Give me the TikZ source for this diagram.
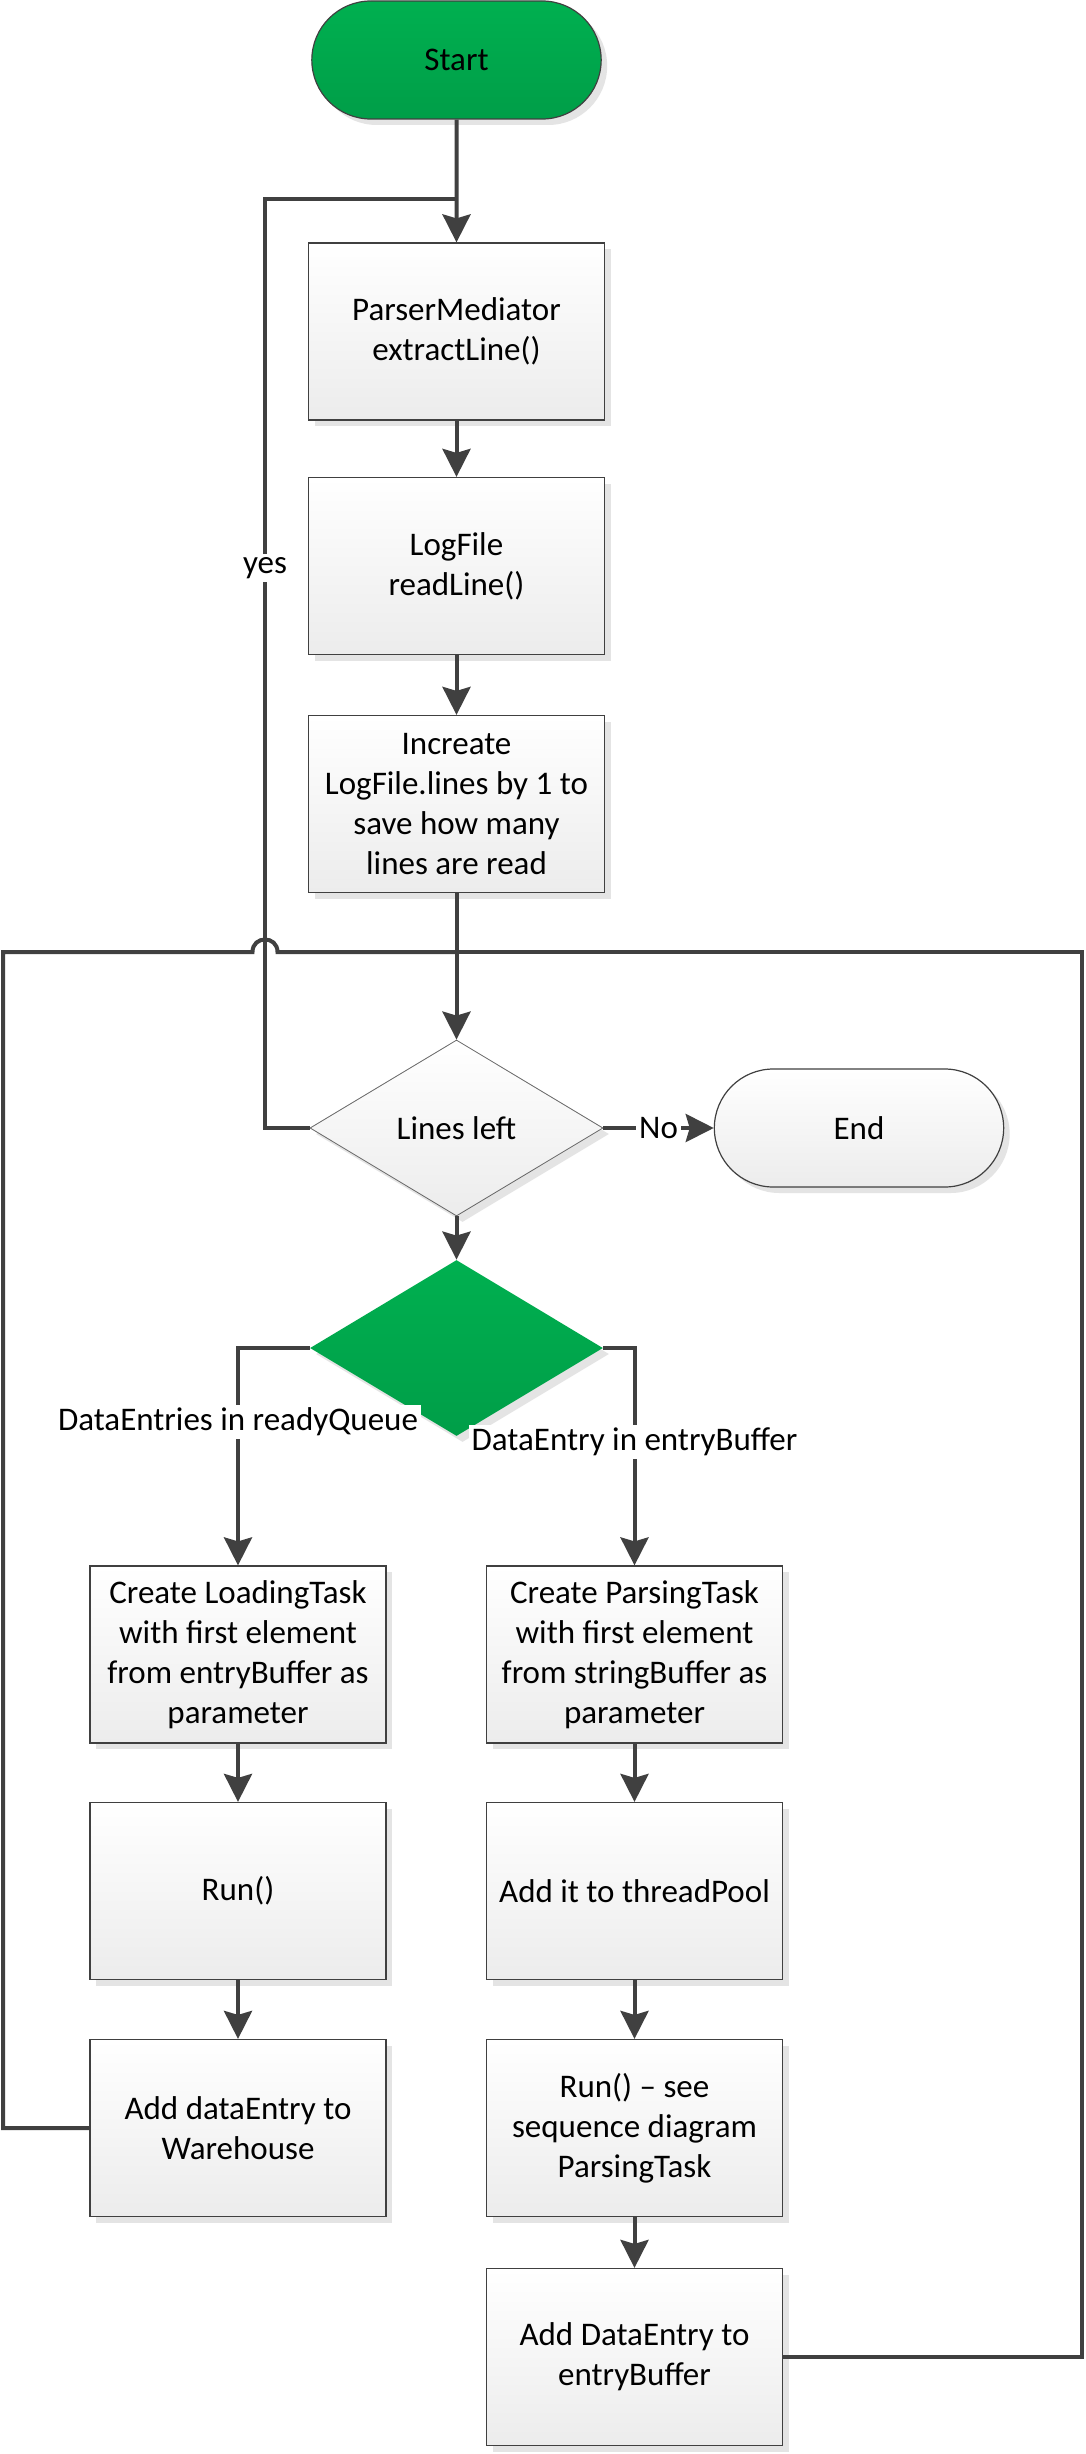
\documentclass[tikz,border=0pt]{standalone}
\usepackage{fontspec}
\setmainfont{Carlito}
\usetikzlibrary{shapes.geometric,shapes.misc,arrows.meta,shadows}
\definecolor{ln}{HTML}{404040}
\definecolor{gtop}{HTML}{00B050}
\definecolor{gbot}{HTML}{009E48}
\definecolor{shd}{HTML}{E4E4E4}
\definecolor{boxbot}{HTML}{ECECEC}
\begin{document}
\begin{tikzpicture}[x=1pt,y=-1pt,
  font=\fontsize{33}{40}\selectfont,
  shad/.style={drop shadow={shadow xshift=6pt,shadow yshift=-6pt,fill=shd,opacity=1}},
  procbox/.style={rectangle,draw=ln,line width=1.2pt,top color=white,bottom color=boxbot,minimum width=296pt,minimum height=177pt,align=center,inner sep=2pt,shad},
  term/.style={rounded rectangle,draw=ln,line width=1.2pt,minimum width=296pt,minimum height=118pt,shad},
  decide/.style={diamond,draw=ln!80,line width=0.8pt,minimum width=293pt,minimum height=176pt,inner sep=0pt,shad},
  conn/.style={draw=ln,line width=4pt},
  arr/.style={conn,-{Stealth[length=28pt,width=28pt,inset=4pt]}},
  lbl/.style={fill=white,inner sep=3pt}
]
\useasboundingbox (0,0) rectangle (1085,2454);
\fill[white] (0,0) rectangle (1085,2454);

\node[term,top color=gtop,bottom color=gbot] (start) at (456.5,60) {Start};
\node[procbox] (b1) at (456.5,331.5) {ParserMediator\\extractLine()};
\node[procbox] (b2) at (456.5,566) {LogFile\\readLine()};
\node[procbox] (b3) at (456.5,804) {Increate\\LogFile.lines by 1 to\\save how many\\lines are read};
\node[decide,top color=white,bottom color=boxbot] (lines) at (456.5,1128) {Lines left};
\node[term,top color=white,bottom color=boxbot] (endn) at (859,1128) {End};
\node[decide,draw=none,top color=gtop,bottom color=gbot] (green) at (456.5,1348) {};

\node[procbox] (l1) at (238,1654.5) {Create LoadingTask\\with first element\\from entryBuffer as\\parameter};
\node[procbox] (l2) at (238,1891) {Run()};
\node[procbox] (l3) at (238,2128) {Add dataEntry to\\Warehouse};

\node[procbox] (r1) at (634.5,1654.5) {Create ParsingTask\\with first element\\from stringBuffer as\\parameter};
\node[procbox] (r2) at (634.5,1891) {Add it to threadPool};
\node[procbox] (r3) at (634.5,2128) {Run() -- see\\sequence diagram\\ParsingTask};
\node[procbox] (r4) at (634.5,2357) {Add DataEntry to\\entryBuffer};

\coordinate (yj) at (456.5,199);
\coordinate (mj) at (456.5,952);

\draw[arr] (start) -- (b1);
\draw[arr] (b1) -- (b2);
\draw[arr] (b2) -- (b3);

\draw[conn] (lines.west) -| (265,199) -- (yj);
\node[lbl] (yes) at (265,568) {yes};

\draw[conn] (l3.west) -| (3,952) -- (252.5,952) .. controls (252.5,935.3) and (277.5,935.3) .. (277.5,952) -- (mj);
\draw[conn] (r4.east) -| (1082,952) -- (mj);

\draw[arr] (b3) -- (lines);
\draw[arr] (lines) -- node[lbl] (no) {No} (endn);
\draw[arr] (lines) -- (green);

\draw[arr] (green.west) -| (l1.north);
\node[lbl] (lq) at (238,1422) {DataEntries in readyQueue};
\draw[arr] (green.east) -| (r1.north);
\node[lbl] (rq) at (634.5,1442) {DataEntry in entryBuffer};

\draw[arr] (l1) -- (l2);
\draw[arr] (l2) -- (l3);
\draw[arr] (r1) -- (r2);
\draw[arr] (r2) -- (r3);
\draw[arr] (r3) -- (r4);
\end{tikzpicture}
\end{document}
